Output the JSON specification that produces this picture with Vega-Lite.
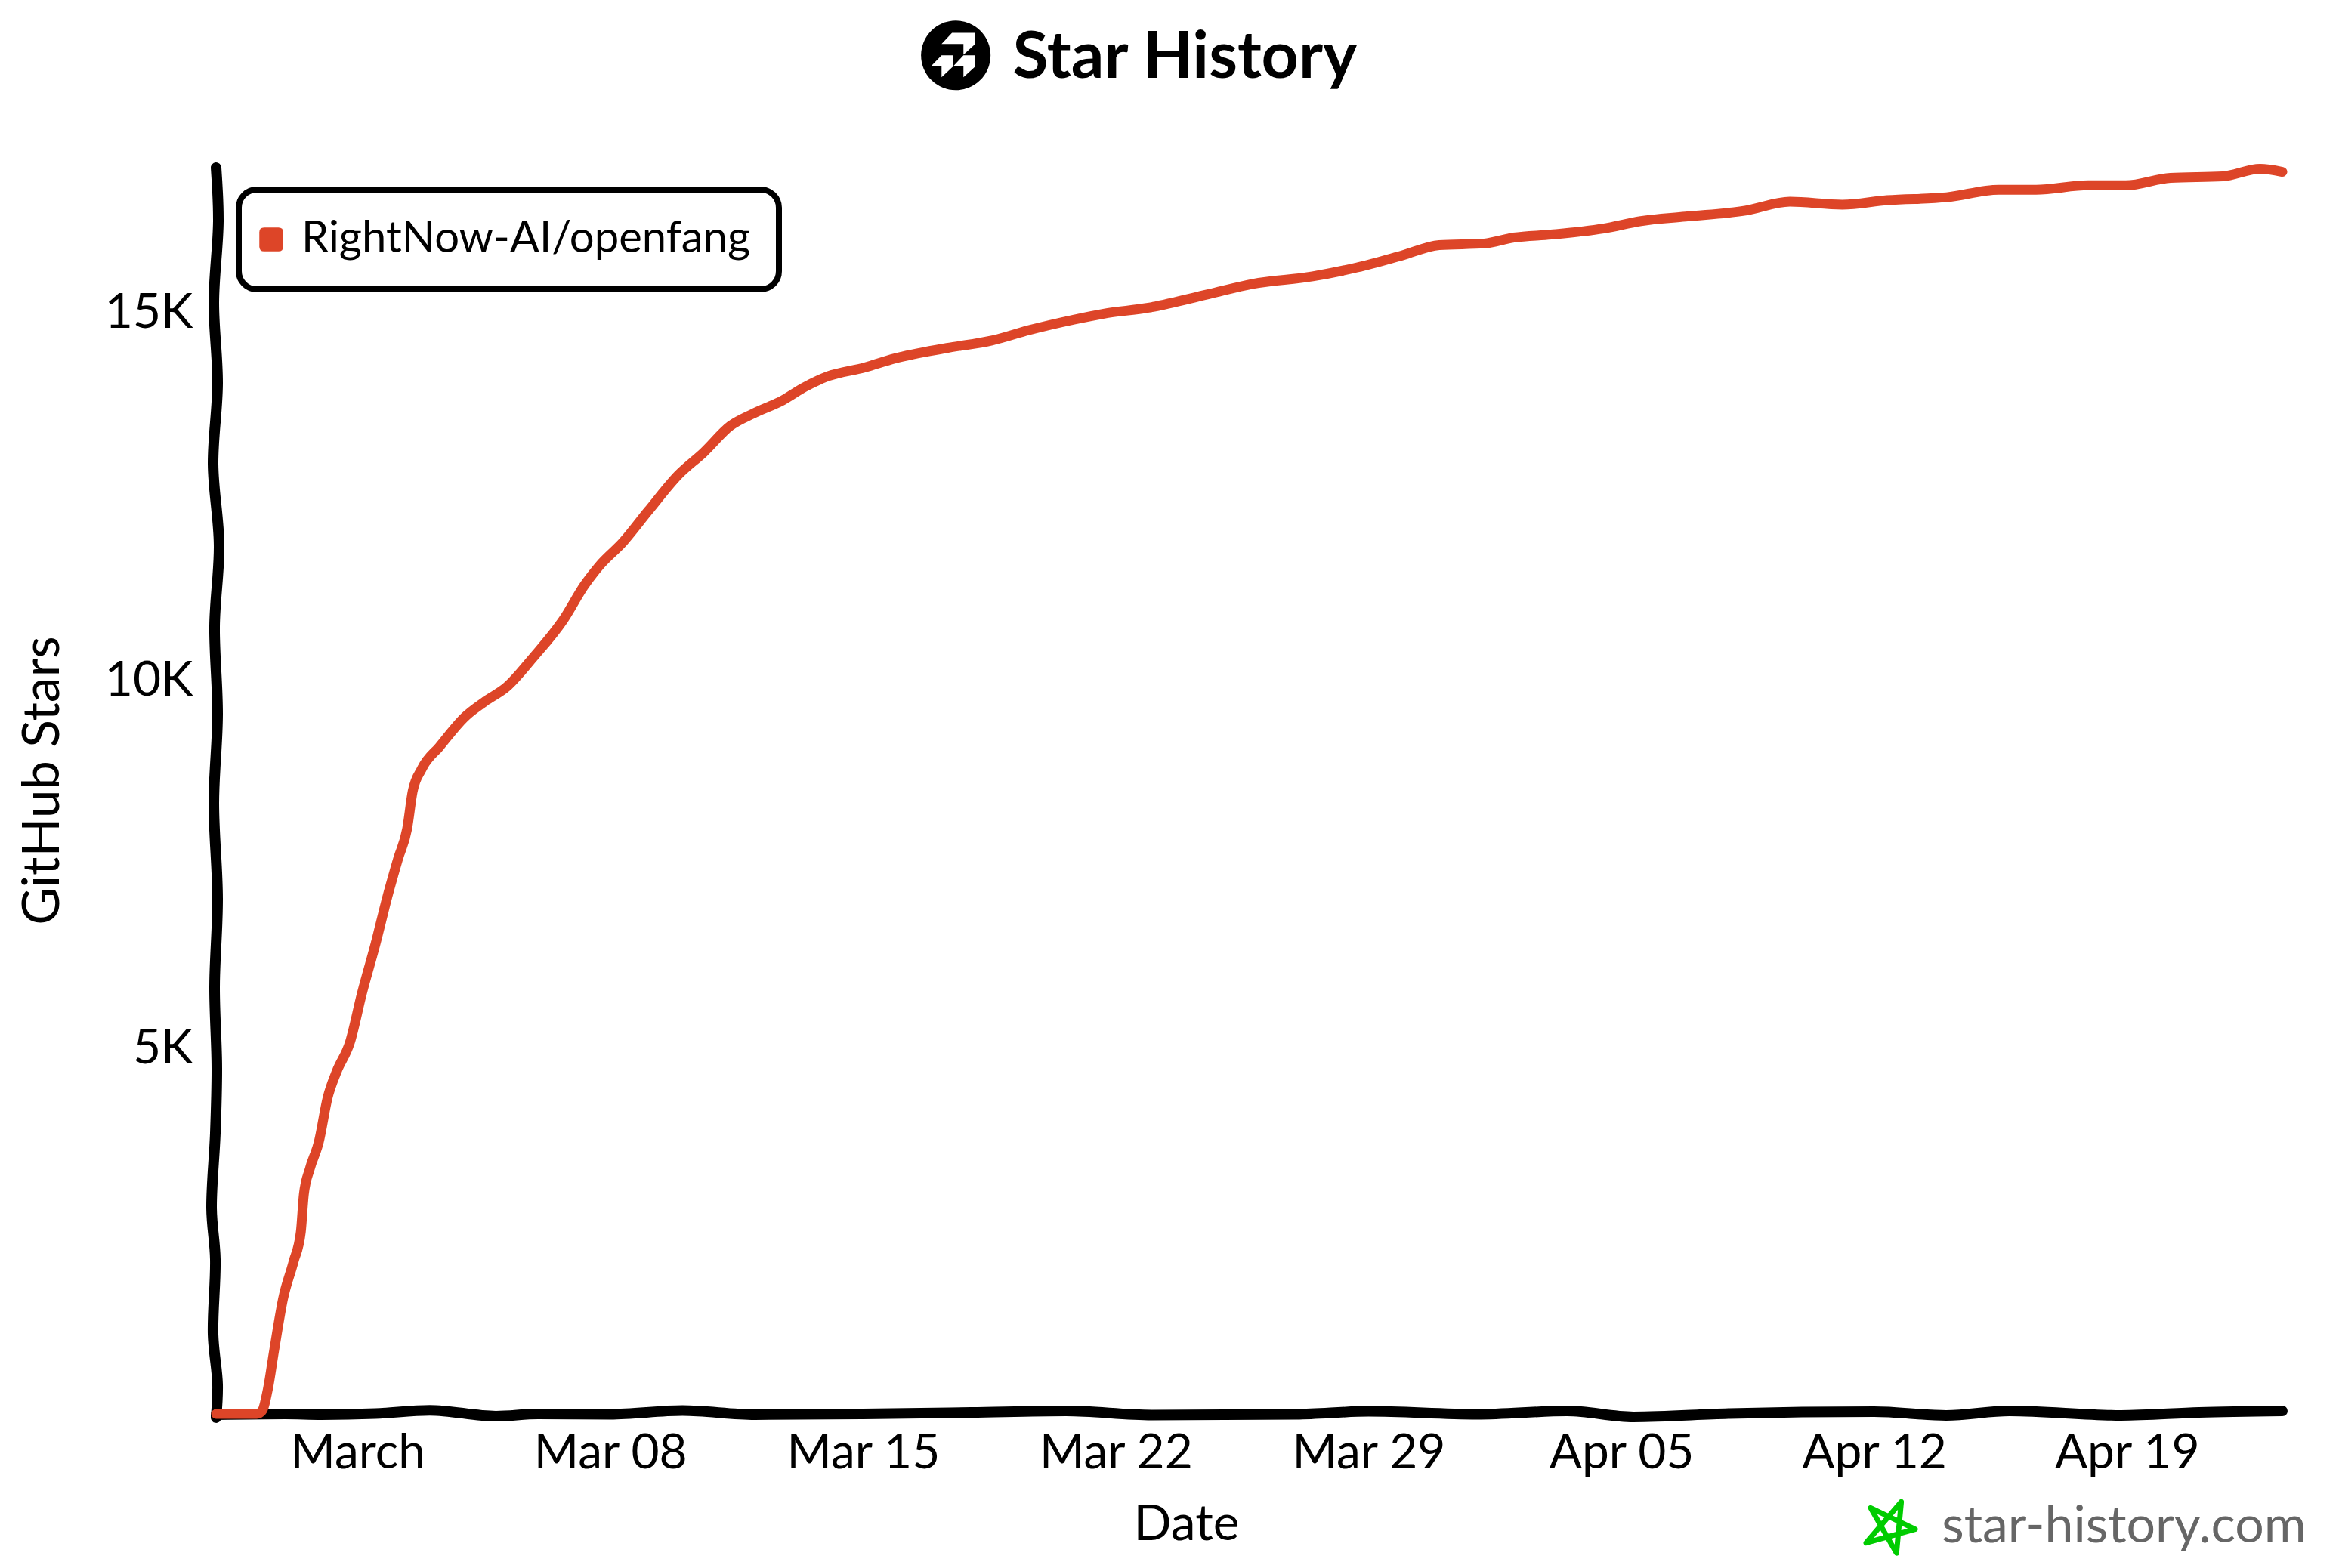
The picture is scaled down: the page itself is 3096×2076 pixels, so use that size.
{
  "$schema": "https://vega.github.io/schema/vega-lite/v6.json",
  "description": "Star History chart for RightNow-AI/openfang",
  "width": 2735,
  "height": 1651,
  "autosize": "none",
  "padding": {"left": 286, "top": 221, "right": 75, "bottom": 204},
  "background": "white",
  "title": {
    "text": "Star History",
    "font": "Lato",
    "fontWeight": "bold",
    "fontSize": 86,
    "color": "black",
    "anchor": "middle",
    "frame": "group",
    "baseline": "alphabetic",
    "dx": -85,
    "dy": 162,
    "offset": 0
  },
  "config": {"view": {"stroke": null}},
  "datasets": {
    "stars": [
      {"date": "2026-02-25T02:00:00", "stars": 0, "repo": "RightNow-AI/openfang"},
      {"date": "2026-02-26T05:00:00", "stars": 0, "repo": "RightNow-AI/openfang"},
      {"date": "2026-02-26T08:30:00", "stars": 41, "repo": "RightNow-AI/openfang"},
      {"date": "2026-02-26T12:30:00", "stars": 345, "repo": "RightNow-AI/openfang"},
      {"date": "2026-02-26T16:30:00", "stars": 852, "repo": "RightNow-AI/openfang"},
      {"date": "2026-02-26T22:30:00", "stars": 1562, "repo": "RightNow-AI/openfang"},
      {"date": "2026-02-27T05:30:00", "stars": 2069, "repo": "RightNow-AI/openfang"},
      {"date": "2026-02-27T10:20:00", "stars": 2474, "repo": "RightNow-AI/openfang"},
      {"date": "2026-02-27T12:20:00", "stars": 2981, "repo": "RightNow-AI/openfang"},
      {"date": "2026-02-27T16:15:00", "stars": 3326, "repo": "RightNow-AI/openfang"},
      {"date": "2026-02-27T22:15:00", "stars": 3691, "repo": "RightNow-AI/openfang"},
      {"date": "2026-02-28T04:10:00", "stars": 4299, "repo": "RightNow-AI/openfang"},
      {"date": "2026-02-28T10:00:00", "stars": 4644, "repo": "RightNow-AI/openfang"},
      {"date": "2026-02-28T19:00:00", "stars": 5050, "repo": "RightNow-AI/openfang"},
      {"date": "2026-03-01T03:00:00", "stars": 5719, "repo": "RightNow-AI/openfang"},
      {"date": "2026-03-01T12:00:00", "stars": 6388, "repo": "RightNow-AI/openfang"},
      {"date": "2026-03-01T20:00:00", "stars": 7037, "repo": "RightNow-AI/openfang"},
      {"date": "2026-03-02T03:00:00", "stars": 7544, "repo": "RightNow-AI/openfang"},
      {"date": "2026-03-02T09:00:00", "stars": 7950, "repo": "RightNow-AI/openfang"},
      {"date": "2026-03-02T12:40:00", "stars": 8457, "repo": "RightNow-AI/openfang"},
      {"date": "2026-03-02T18:40:00", "stars": 8761, "repo": "RightNow-AI/openfang"},
      {"date": "2026-03-03T06:30:00", "stars": 9065, "repo": "RightNow-AI/openfang"},
      {"date": "2026-03-03T23:30:00", "stars": 9471, "repo": "RightNow-AI/openfang"},
      {"date": "2026-03-04T12:20:00", "stars": 9674, "repo": "RightNow-AI/openfang"},
      {"date": "2026-03-05T03:10:00", "stars": 9876, "repo": "RightNow-AI/openfang"},
      {"date": "2026-03-05T21:00:00", "stars": 10282, "repo": "RightNow-AI/openfang"},
      {"date": "2026-03-06T16:50:00", "stars": 10789, "repo": "RightNow-AI/openfang"},
      {"date": "2026-03-07T06:45:00", "stars": 11255, "repo": "RightNow-AI/openfang"},
      {"date": "2026-03-07T16:40:00", "stars": 11519, "repo": "RightNow-AI/openfang"},
      {"date": "2026-03-08T08:30:00", "stars": 11844, "repo": "RightNow-AI/openfang"},
      {"date": "2026-03-09T01:20:00", "stars": 12269, "repo": "RightNow-AI/openfang"},
      {"date": "2026-03-09T21:15:00", "stars": 12756, "repo": "RightNow-AI/openfang"},
      {"date": "2026-03-10T14:00:00", "stars": 13060, "repo": "RightNow-AI/openfang"},
      {"date": "2026-03-11T08:00:00", "stars": 13425, "repo": "RightNow-AI/openfang"},
      {"date": "2026-03-11T22:50:00", "stars": 13588, "repo": "RightNow-AI/openfang"},
      {"date": "2026-03-12T18:40:00", "stars": 13770, "repo": "RightNow-AI/openfang"},
      {"date": "2026-03-13T09:30:00", "stars": 13953, "repo": "RightNow-AI/openfang"},
      {"date": "2026-03-14T00:25:00", "stars": 14095, "repo": "RightNow-AI/openfang"},
      {"date": "2026-03-15T01:10:00", "stars": 14216, "repo": "RightNow-AI/openfang"},
      {"date": "2026-03-15T21:00:00", "stars": 14338, "repo": "RightNow-AI/openfang"},
      {"date": "2026-03-17T07:45:00", "stars": 14480, "repo": "RightNow-AI/openfang"},
      {"date": "2026-03-18T13:30:00", "stars": 14581, "repo": "RightNow-AI/openfang"},
      {"date": "2026-03-19T14:20:00", "stars": 14723, "repo": "RightNow-AI/openfang"},
      {"date": "2026-03-20T20:00:00", "stars": 14865, "repo": "RightNow-AI/openfang"},
      {"date": "2026-03-21T16:00:00", "stars": 14946, "repo": "RightNow-AI/openfang"},
      {"date": "2026-03-22T21:40:00", "stars": 15027, "repo": "RightNow-AI/openfang"},
      {"date": "2026-03-24T13:15:00", "stars": 15210, "repo": "RightNow-AI/openfang"},
      {"date": "2026-03-25T19:00:00", "stars": 15352, "repo": "RightNow-AI/openfang"},
      {"date": "2026-03-27T10:50:00", "stars": 15453, "repo": "RightNow-AI/openfang"},
      {"date": "2026-03-28T16:30:00", "stars": 15575, "repo": "RightNow-AI/openfang"},
      {"date": "2026-03-29T22:15:00", "stars": 15737, "repo": "RightNow-AI/openfang"},
      {"date": "2026-03-30T23:00:00", "stars": 15879, "repo": "RightNow-AI/openfang"},
      {"date": "2026-04-01T04:50:00", "stars": 15900, "repo": "RightNow-AI/openfang"},
      {"date": "2026-04-02T00:30:00", "stars": 15981, "repo": "RightNow-AI/openfang"},
      {"date": "2026-04-03T01:20:00", "stars": 16021, "repo": "RightNow-AI/openfang"},
      {"date": "2026-04-04T12:00:00", "stars": 16102, "repo": "RightNow-AI/openfang"},
      {"date": "2026-04-05T13:00:00", "stars": 16204, "repo": "RightNow-AI/openfang"},
      {"date": "2026-04-06T18:40:00", "stars": 16265, "repo": "RightNow-AI/openfang"},
      {"date": "2026-04-08T10:20:00", "stars": 16346, "repo": "RightNow-AI/openfang"},
      {"date": "2026-04-09T16:00:00", "stars": 16467, "repo": "RightNow-AI/openfang"},
      {"date": "2026-04-11T02:50:00", "stars": 16427, "repo": "RightNow-AI/openfang"},
      {"date": "2026-04-12T08:35:00", "stars": 16488, "repo": "RightNow-AI/openfang"},
      {"date": "2026-04-14T00:10:00", "stars": 16528, "repo": "RightNow-AI/openfang"},
      {"date": "2026-04-15T10:50:00", "stars": 16630, "repo": "RightNow-AI/openfang"},
      {"date": "2026-04-16T11:40:00", "stars": 16630, "repo": "RightNow-AI/openfang"},
      {"date": "2026-04-17T22:20:00", "stars": 16690, "repo": "RightNow-AI/openfang"},
      {"date": "2026-04-18T23:15:00", "stars": 16690, "repo": "RightNow-AI/openfang"},
      {"date": "2026-04-20T05:00:00", "stars": 16792, "repo": "RightNow-AI/openfang"},
      {"date": "2026-04-21T15:40:00", "stars": 16812, "repo": "RightNow-AI/openfang"},
      {"date": "2026-04-22T16:30:00", "stars": 16914, "repo": "RightNow-AI/openfang"},
      {"date": "2026-04-23T07:20:00", "stars": 16873, "repo": "RightNow-AI/openfang"}
    ],
    "yaxis": [
      {"date": "2026-02-25T02:00:00", "stars": 16930},
      {"date": "2026-02-25T03:30:00", "stars": 16200},
      {"date": "2026-02-25T00:30:00", "stars": 15100},
      {"date": "2026-02-25T03:00:00", "stars": 14000},
      {"date": "2026-02-25T00:00:00", "stars": 12900},
      {"date": "2026-02-25T04:00:00", "stars": 11800},
      {"date": "2026-02-25T01:00:00", "stars": 10700},
      {"date": "2026-02-25T03:00:00", "stars": 9500},
      {"date": "2026-02-25T00:30:00", "stars": 8300},
      {"date": "2026-02-25T03:00:00", "stars": 7000},
      {"date": "2026-02-25T01:00:00", "stars": 5800},
      {"date": "2026-02-25T02:30:00", "stars": 4700},
      {"date": "2026-02-25T01:30:00", "stars": 3817},
      {"date": "2026-02-24T23:00:00", "stars": 2790},
      {"date": "2026-02-25T01:30:00", "stars": 2100},
      {"date": "2026-02-25T00:00:00", "stars": 1077},
      {"date": "2026-02-25T03:00:00", "stars": 400},
      {"date": "2026-02-25T02:00:00", "stars": -50}
    ],
    "xaxis": [
      {"date": "2026-02-25T02:00:00", "stars": -10},
      {"date": "2026-02-27T00:00:00", "stars": 0},
      {"date": "2026-02-28T00:00:00", "stars": -10},
      {"date": "2026-03-01T12:00:00", "stars": 5},
      {"date": "2026-03-03T00:00:00", "stars": 50},
      {"date": "2026-03-04T20:00:00", "stars": -30},
      {"date": "2026-03-06T00:00:00", "stars": 0},
      {"date": "2026-03-08T00:00:00", "stars": -5},
      {"date": "2026-03-10T00:00:00", "stars": 45},
      {"date": "2026-03-12T00:00:00", "stars": -10},
      {"date": "2026-03-15T00:00:00", "stars": 0},
      {"date": "2026-03-18T00:00:00", "stars": 20},
      {"date": "2026-03-20T15:00:00", "stars": 40},
      {"date": "2026-03-23T00:00:00", "stars": -15},
      {"date": "2026-03-27T00:00:00", "stars": -5},
      {"date": "2026-03-29T00:00:00", "stars": 35},
      {"date": "2026-04-01T00:00:00", "stars": -5},
      {"date": "2026-04-03T12:00:00", "stars": 40},
      {"date": "2026-04-05T08:00:00", "stars": -40},
      {"date": "2026-04-08T00:00:00", "stars": 5},
      {"date": "2026-04-12T00:00:00", "stars": 30},
      {"date": "2026-04-14T00:00:00", "stars": -20},
      {"date": "2026-04-15T18:00:00", "stars": 40},
      {"date": "2026-04-18T20:00:00", "stars": -20},
      {"date": "2026-04-21T00:00:00", "stars": 20},
      {"date": "2026-04-23T07:20:00", "stars": 40}
    ]
  },
  "encoding": {
    "x": {
      "field": "date",
      "type": "temporal",
      "title": "Date",
      "scale": {"domain": ["2026-02-25T02:00:00", "2026-04-23T07:20:00"], "nice": false},
      "axis": {
        "domain": false,
        "ticks": false,
        "grid": false,
        "values": ["2026-03-01T00:00:00", "2026-03-08T00:00:00", "2026-03-15T00:00:00", "2026-03-22T00:00:00", "2026-03-29T00:00:00", "2026-04-05T00:00:00", "2026-04-12T00:00:00", "2026-04-19T00:00:00"],
        "labelExpr": "timeFormat(datum.value, '%b %d') == 'Mar 01' ? 'March' : timeFormat(datum.value, '%b %d')",
        "labelFont": "Lato",
        "labelFontSize": 64,
        "labelColor": "black",
        "labelLimit": 400,
        "labelPadding": 20,
        "labelFlush": false,
        "labelOverlap": false,
        "titleFont": "Lato",
        "titleFontWeight": "normal",
        "titleFontSize": 66,
        "titleColor": "black",
        "titleX": 1284,
        "titleY": 146,
        "titleBaseline": "middle"
      }
    },
    "y": {
      "field": "stars",
      "type": "quantitative",
      "title": "GitHub Stars",
      "scale": {"domain": [0, 16940], "nice": false},
      "axis": {
        "domain": false,
        "ticks": false,
        "grid": false,
        "values": [5000, 10000, 15000],
        "labelExpr": "datum.value / 1000 + 'K'",
        "labelFont": "Lato",
        "labelFontSize": 64,
        "labelColor": "black",
        "labelPadding": 31,
        "labelOffset": 4,
        "titleFont": "Lato",
        "titleFontWeight": "normal",
        "titleFontSize": 68,
        "titleColor": "black",
        "titleX": -229,
        "titleY": 812,
        "titleAngle": -90,
        "titleBaseline": "middle"
      }
    }
  },
  "layer": [
    {
      "data": {"name": "yaxis"},
      "mark": {"type": "line", "stroke": "black", "strokeWidth": 14, "interpolate": "catmull-rom", "strokeCap": "round"},
      "encoding": {"order": {"field": "stars", "sort": "descending"}}
    },
    {
      "data": {"name": "xaxis"},
      "mark": {"type": "line", "stroke": "black", "strokeWidth": 14, "interpolate": "monotone", "strokeCap": "round"},
      "encoding": {}
    },
    {
      "data": {"name": "stars"},
      "mark": {"type": "line", "strokeWidth": 13, "interpolate": "monotone", "strokeCap": "round", "strokeJoin": "round"},
      "encoding": {
        "color": {
          "field": "repo",
          "type": "nominal",
          "scale": {"domain": ["RightNow-AI/openfang"], "range": ["#dd4528"]},
          "legend": {
            "title": null,
            "orient": "none",
            "legendX": 30,
            "legendY": 30,
            "fillColor": "white",
            "strokeColor": "black",
            "cornerRadius": 24,
            "padding": 37,
            "symbolType": "M-2.45,-0.6 Q-2.45,-1 -2.05,-1 L-0.85,-1 Q-0.45,-1 -0.45,-0.6 L-0.45,0.6 Q-0.45,1 -0.85,1 L-2.05,1 Q-2.45,1 -2.45,0.6 Z",
            "symbolSize": 1000,
            "symbolStrokeWidth": 0,
            "labelFont": "Lato",
            "labelFontSize": 58,
            "labelColor": "black",
            "labelLimit": 1000,
            "labelOffset": 20,
            "encode": {
              "legend": {"update": {"strokeWidth": {"value": 8}}},
              "symbols": {"update": {"fill": {"value": "#dd4528"}}},
              "labels": {"update": {"dx": {"value": -32}}}
            }
          }
        }
      }
    },
    {
      "data": {"values": [{"date": "2026-03-17T13:40:00", "stars": 18455}]},
      "mark": {"type": "point", "shape": "circle", "filled": true, "size": 8464, "color": "black", "opacity": 1},
      "encoding": {}
    },
    {
      "data": {"values": [{"date": "2026-03-17T13:40:00", "stars": 18455}]},
      "mark": {
        "type": "point",
        "shape": "M-0.11,-0.65 L0.56,-0.65 L0.56,-0.33 L0.22,-0.02 L0.22,-0.33 L-0.41,-0.33 Z M-0.41,0 L-0.08,0 L-0.08,0.32 L-0.41,0.63 L-0.41,0.32 L-0.72,0.32 Z M0.22,0 L0.56,0 L0.56,0.32 L0.22,0.63 L0.22,0.32 L-0.08,0.32 Z",
        "filled": true,
        "size": 8464,
        "color": "white",
        "opacity": 1
      },
      "encoding": {}
    },
    {
      "data": {"values": [{"date": "2026-04-12T11:30:00", "stars": -1541}]},
      "mark": {
        "type": "point",
        "shape": "M-0.78,-0.73 L0.89,0.07 L-0.95,0.58 L0.37,-0.96 L0.19,0.96 Z",
        "filled": false,
        "size": 5000,
        "color": "#00cc00",
        "strokeWidth": 7,
        "strokeJoin": "round",
        "opacity": 1
      },
      "encoding": {}
    },
    {
      "data": {"values": [{"date": "2026-04-13T21:00:00", "stars": -1541, "label": "star-history.com"}]},
      "mark": {"type": "text", "align": "left", "baseline": "middle", "font": "Lato", "fontSize": 68, "color": "#666666"},
      "encoding": {"text": {"field": "label"}}
    }
  ]
}
